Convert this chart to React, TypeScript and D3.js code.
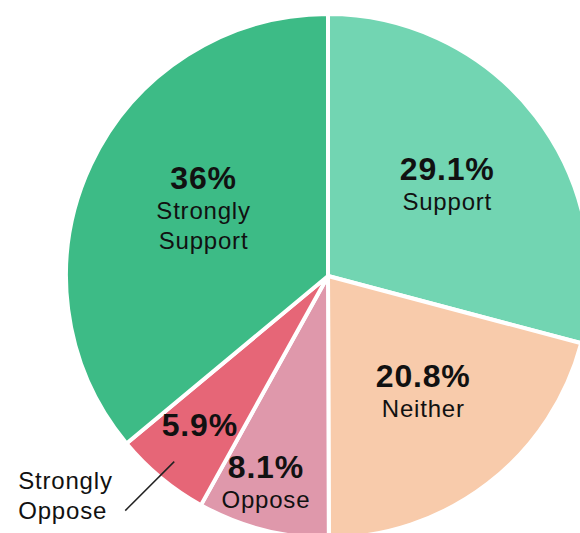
import React, { useEffect, useRef } from 'react';
import * as d3 from 'd3';

const categories = ['Support', 'Neither', 'Oppose', 'Strongly Oppose', 'Strongly Support'];
const values = [29.1, 20.8, 8.1, 5.9, 36];
const percentLabels = ['29.1%', '20.8%', '8.1%', '5.9%', '36%'];
const nameLines = [['Support'], ['Neither'], ['Oppose'], [], ['Strongly', 'Support']];
const colors = ['#72d5b2', '#f8cbab', '#df98ab', '#e66677', '#3dbb86'];

const width = 580;
const height = 533;

export default function App() {
  const ref = useRef<SVGSVGElement>(null);

  useEffect(() => {
    const svg = d3.select(ref.current);
    svg.selectAll('*').remove();

    const cx = 328;
    const cy = 276;
    const r = 262;

    // label placement, radius as fraction of r plus a small nudge
    const labelK = [0.55, 0.57, 0.83, 0.755, 0.55];
    const nudge = [[5, -2], [4, -1], [-8, -3], [-2, -1], [6, -5]];

    const data = categories.map((c, i) => ({ name: c, value: values[i], i }));
    const pie = d3.pie<any>().sort(null).value(d => d.value);
    const arcs = pie(data);

    const arc = d3.arc<any>().innerRadius(0).outerRadius(r);

    const g = svg.append('g').attr('transform', `translate(${cx},${cy})`);

    g.selectAll('path.slice')
      .data(arcs)
      .join('path')
      .attr('class', 'slice')
      .attr('d', arc)
      .attr('fill', d => colors[d.data.i])
      .attr('stroke', '#fff')
      .attr('stroke-width', 4)
      .attr('stroke-linejoin', 'round');

    const font = '"Liberation Sans", Arial, Helvetica, sans-serif';

    arcs.forEach(a => {
      const i = a.data.i;
      const k = labelK[i] * r;
      const [x0, y0] = d3.arc<any>().innerRadius(k).outerRadius(k).centroid(a);
      const x = x0 + nudge[i][0];
      const y = y0 + nudge[i][1];
      const lines = nameLines[i];
      const n = lines.length + 1;
      const first = y - ((n - 1) * 30) / 2 + 9;

      g.append('text')
        .attr('x', x)
        .attr('y', first)
        .attr('text-anchor', 'middle')
        .attr('font-family', font)
        .attr('font-weight', 'bold')
        .attr('font-size', 32)
        .attr('letter-spacing', 0.8)
        .attr('fill', '#111')
        .text(percentLabels[i]);

      lines.forEach((l, j) => {
        g.append('text')
          .attr('x', x)
          .attr('y', first + 30 * (j + 1))
          .attr('text-anchor', 'middle')
          .attr('font-family', font)
          .attr('font-size', 24)
          .attr('letter-spacing', 0.8)
          .attr('fill', '#111')
          .text(l);
      });
    });

    // outside label for Strongly Oppose
    const so = arcs[3];
    const p1 = d3.arc<any>().innerRadius(r * 0.92).outerRadius(r * 0.92).centroid(so);
    const p2 = [p1[0] - 49, p1[1] + 49];
    g.append('line')
      .attr('x1', p1[0]).attr('y1', p1[1])
      .attr('x2', p2[0]).attr('y2', p2[1])
      .attr('stroke', '#222')
      .attr('stroke-width', 1.5);

    ['Strongly', 'Oppose'].forEach((l, j) => {
      g.append('text')
        .attr('x', p2[0] - 107)
        .attr('y', p2[1] - 22 + 30 * j)
        .attr('text-anchor', 'start')
        .attr('font-family', font)
        .attr('font-size', 24)
        .attr('letter-spacing', 0.8)
        .attr('fill', '#111')
        .text(l);
    });
  }, []);

  return (
    <svg
      ref={ref}
      width={width}
      height={height}
      style={{ position: 'absolute', left: 0, top: 0, background: '#fff' }}
    />
  );
}
